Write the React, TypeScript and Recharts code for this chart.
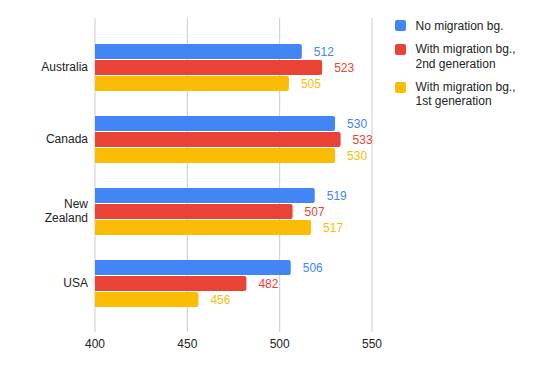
import React from 'react';
import { BarChart, Bar, XAxis, YAxis, CartesianGrid, LabelList } from 'recharts';

const countries = ['Australia', 'Canada', 'New Zealand', 'USA'];
const noMigration = [512, 530, 519, 506];
const secondGen = [523, 533, 507, 482];
const firstGen = [505, 530, 517, 456];
const xTicks = [400, 450, 500, 550];

const series = [
  { key: 'none', name: 'No migration bg.', color: '#4285F4', lines: ['No migration bg.'] },
  { key: 'second', name: 'With migration bg., 2nd generation', color: '#EA4335', lines: ['With migration bg.,', '2nd generation'] },
  { key: 'first', name: 'With migration bg., 1st generation', color: '#FBBC04', lines: ['With migration bg.,', '1st generation'] },
];

const data = countries.map((c, i) => ({
  country: c,
  none: noMigration[i],
  second: secondGen[i],
  first: firstGen[i],
}));

const CountryTick = (props: any) => {
  const { x, y, payload } = props;
  const value: string = payload.value;
  const lines = value.length > 9 ? value.split(' ') : [value];
  const start = -((lines.length - 1) * 14) / 2;
  return (
    <text x={x} y={y} textAnchor="end" fill="#222" fontSize={12}>
      {lines.map((l, i) => (
        <tspan key={i} x={x} dy={i === 0 ? start + 4 : 14}>
          {l}
        </tspan>
      ))}
    </text>
  );
};

const App = () => {
  return (
    <div
      style={{
        position: 'absolute',
        left: 0,
        top: 0,
        width: 543,
        height: 371,
        background: '#fff',
        fontFamily: '"Liberation Sans", Arial, sans-serif',
      }}
    >
      <BarChart
        width={543}
        height={371}
        data={data}
        layout="vertical"
        margin={{ top: 18, right: 171, bottom: 9, left: 0 }}
        barSize={15}
        barGap={1}
      >
        <CartesianGrid horizontal={false} stroke="#cccccc" />
        <XAxis
          type="number"
          domain={[400, 550]}
          ticks={xTicks}
          axisLine={false}
          tickLine={false}
          tickSize={0}
          tickMargin={7}
          height={30}
          tick={{ fill: '#222', fontSize: 12 }}
        />
        <YAxis
          type="category"
          dataKey="country"
          width={95}
          axisLine={false}
          tickLine={false}
          tickSize={0}
          tickMargin={7}
          padding={{ top: 13, bottom: 13 }}
          tick={<CountryTick />}
        />
        {series.map((s) => (
          <Bar key={s.key} dataKey={s.key} name={s.name} fill={s.color} radius={[0, 2, 2, 0]} isAnimationActive={false}>
            <LabelList dataKey={s.key} position="right" offset={12} fill={s.color} fontSize={12} />
          </Bar>
        ))}
      </BarChart>
      <div style={{ position: 'absolute', left: 395, top: 18.6, width: 145 }}>
        {series.map((s) => (
          <div key={s.key} style={{ position: 'relative', paddingLeft: 20.5, marginBottom: 9.1, fontSize: 12, lineHeight: '14.4px', color: '#222' }}>
            <div
              style={{
                position: 'absolute',
                left: 0,
                top: 1.7,
                width: 11,
                height: 11,
                borderRadius: 2,
                background: s.color,
              }}
            />
            {s.lines.map((l, i) => (
              <div key={i}>{l}</div>
            ))}
          </div>
        ))}
      </div>
    </div>
  );
};

export default App;
